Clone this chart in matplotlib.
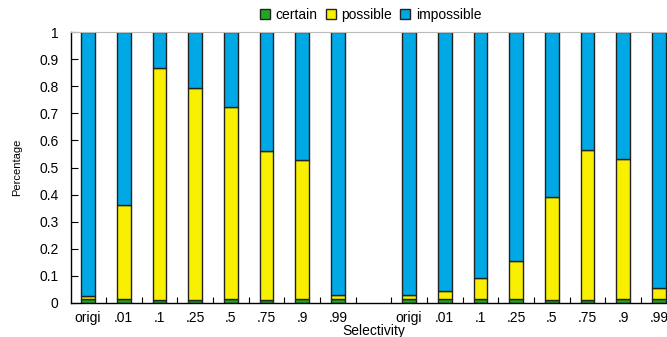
import numpy as np
import matplotlib
matplotlib.use('Agg')
from matplotlib import pyplot as plt

plt.rcParams['font.family'] = ['Liberation Sans', 'DejaVu Sans']

labels = ['origi', '.01', '.1', '.25', '.5', '.75', '.9', '.99']
positions = [0, 1, 2, 3, 4, 5, 6, 7, 9, 10, 11, 12, 13, 14, 15, 16]

# two groups of 8 bars
certain = [0.015, 0.015, 0.010, 0.012, 0.015, 0.012, 0.015, 0.015,
           0.015, 0.015, 0.015, 0.015, 0.011, 0.011, 0.015, 0.015]
possible_top = [0.026, 0.360, 0.866, 0.795, 0.723, 0.560, 0.527, 0.028,
                0.028, 0.043, 0.094, 0.154, 0.393, 0.566, 0.531, 0.054]

certain = np.array(certain)
possible = np.array(possible_top) - certain
impossible = 1 - np.array(possible_top)

c_green = '#20a820'
c_yellow = '#f8f000'
c_blue = '#00a9e6'


def main():
    fig = plt.figure(figsize=(6.67, 3.37), dpi=100)
    ax = fig.add_axes([0.1064, 0.1009, 0.907, 0.804])

    w = 0.38
    ec = '#222222'
    ax.bar(positions, certain, w, color=c_green, edgecolor=ec, linewidth=1, label='certain')
    ax.bar(positions, possible, w, bottom=certain, color=c_yellow, edgecolor=ec, linewidth=1, label='possible')
    ax.bar(positions, impossible, w, bottom=certain + possible, color=c_blue, edgecolor=ec, linewidth=1, label='impossible')

    ax.set_xlim(-0.48, 16.48)
    ax.set_ylim(0, 1)
    ax.set_xticks(positions)
    ax.set_xticklabels(labels + labels)
    ax.set_xticks(np.arange(0.5, 16, 1), minor=True)
    ax.tick_params(axis='x', which='major', length=0, pad=6, labelsize=10)
    ax.tick_params(axis='x', which='minor', direction='in', length=4, width=0.8)
    ax.set_yticks(np.arange(0, 1.01, 0.1))
    ax.set_yticklabels(['0'] + ['%.1f' % v for v in np.arange(0.1, 0.95, 0.1)] + ['1'])
    ax.tick_params(axis='y', direction='in', length=5, width=0.8, pad=9, labelsize=10)

    ax.spines['top'].set_color('#bbbbbb')
    ax.spines['right'].set_visible(False)
    ax.spines['left'].set_linewidth(1)
    ax.spines['bottom'].set_linewidth(1)

    ax.set_xlabel('Selectivity', fontsize=10, labelpad=-1)
    ax.set_ylabel('Percentage', fontsize=8, labelpad=12)

    fig.legend(loc='center', bbox_to_anchor=(0.556, 0.955), ncol=3, frameon=False,
               fontsize=10, handlelength=0.7, handleheight=0.7, handletextpad=0.4,
               columnspacing=0.6, borderpad=0)

    fig.savefig('out.png', dpi=100)


if __name__ == '__main__':
    main()
